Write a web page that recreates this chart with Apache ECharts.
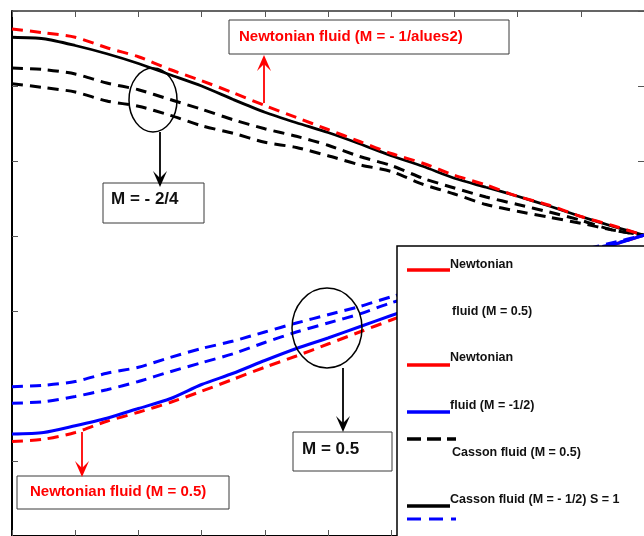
<!DOCTYPE html>
<html><head><meta charset="utf-8">
<script src="https://cdn.jsdelivr.net/npm/echarts@6/dist/echarts.min.js"></script>
<style>html,body{margin:0;padding:0;background:#fff}#c{width:644px;height:536px}</style>
</head><body><div id="c"></div>
<script>
// ---- data ----
const xValues = [0,0.5,1,1.5,2,2.5,3,3.5,4,4.5,5,5.5,6,6.5,7,7.5,8,8.5,9,9.5,10];
const newtonianNegHalf = [6.76,6.71,6.65,6.51,6.39,6.22,6.07,5.91,5.74,5.58,5.42,5.26,5.10,4.97,4.81,4.68,4.53,4.41,4.26,4.14,4.01];
const cassonNegHalf = [6.65,6.63,6.54,6.43,6.30,6.15,6.00,5.82,5.65,5.51,5.38,5.23,5.07,4.93,4.77,4.65,4.53,4.40,4.26,4.13,4.01];
const cassonNegA = [6.24,6.22,6.16,6.04,5.95,5.82,5.69,5.55,5.43,5.33,5.21,5.06,4.94,4.77,4.64,4.52,4.42,4.32,4.21,4.08,4.01];
const cassonNegB = [6.03,5.98,5.92,5.80,5.73,5.61,5.47,5.37,5.25,5.18,5.07,4.95,4.86,4.69,4.56,4.42,4.33,4.25,4.17,4.08,4.01];
const cassonPosA = [1.99,2.01,2.06,2.17,2.25,2.38,2.50,2.60,2.72,2.84,2.95,3.06,3.19,3.31,3.41,3.52,3.63,3.72,3.81,3.91,4.01];
const cassonPosB = [1.77,1.79,1.86,1.95,2.06,2.19,2.31,2.43,2.58,2.72,2.84,2.96,3.11,3.23,3.35,3.47,3.59,3.69,3.80,3.89,4.01];
const cassonPosHalf = [1.36,1.38,1.47,1.57,1.70,1.83,2.02,2.17,2.34,2.50,2.64,2.79,2.94,3.08,3.23,3.36,3.49,3.63,3.75,3.88,4.01];
const newtonianPosHalf = [1.26,1.29,1.38,1.53,1.65,1.78,1.93,2.09,2.25,2.40,2.56,2.72,2.88,3.04,3.19,3.33,3.48,3.61,3.75,3.88,4.01];

const xMin = 0, xMax = 10, xStep = 1;
const yMin = 0, yMax = 7, yStep = 1;

const legendItems = [
  {text: 'Newtonian', color: '#ff0000', dash: null},
  {text: 'fluid (M = 0.5)', color: null, dash: null},
  {text: 'Newtonian', color: '#ff0000', dash: null},
  {text: 'fluid (M = -1/2)', color: '#0000ff', dash: null},
  {text: 'Casson fluid (M = 0.5)', color: '#000000', dash: [14, 6]},
  {text: 'Casson fluid (M = - 1/2) S = 1', color: '#000000', dash: null}
];

const pairs = ys => ys.map((y, i) => [xValues[i], y]);

const chart = echarts.init(document.getElementById('c'), null, {renderer: 'canvas'});

function lineSeries(name, ys, color, dashed, width) {
  return {
    name, type: 'line', data: pairs(ys), showSymbol: false, symbol: 'none', smooth: 0.25,
    lineStyle: {color, width: width || 3, type: dashed ? [11, 7] : 'solid'},
    emphasis: {disabled: true}, silent: true, clip: false
  };
}

const axisCommon = (pos, lineW, lineC, showLine) => ({
  type: 'value', position: pos,
  axisLine: {show: showLine, onZero: false, lineStyle: {color: lineC, width: lineW}},
  axisTick: {show: true, inside: true, length: 6, lineStyle: {color: '#555', width: 1}},
  axisLabel: {show: false}, splitLine: {show: false}
});

const FONT = '"Liberation Sans", Arial, sans-serif';
const G = [];
function box(x, y, w, h) {
  G.push({type: 'rect', z: 50, shape: {x, y, width: w, height: h}, style: {fill: '#fff', stroke: '#3a3a3a', lineWidth: 1}});
}
function txt(x, y, s, color, size) {
  G.push({type: 'text', z: 60, x, y, style: {text: s, fill: color, font: 'bold ' + size + 'px ' + FONT, verticalAlign: 'middle', align: 'left'}});
}
function arrow(x, y1, y2, color) {
  const dir = y2 > y1 ? 1 : -1;
  G.push({type: 'line', z: 55, shape: {x1: x, y1, x2: x, y2: y2 - dir * 6}, style: {stroke: color, lineWidth: 1.8}});
  G.push({type: 'polygon', z: 55, shape: {points: [[x, y2], [x - 7, y2 - dir * 16], [x, y2 - dir * 9], [x + 7, y2 - dir * 16]]}, style: {fill: color}});
}

box(229, 20, 280, 34);
txt(239, 37, 'Newtonian fluid (M = - 1/alues2)', '#ff0000', 15);
arrow(264, 103, 55, '#ff0000');
G.push({type: 'ellipse', z: 55, shape: {cx: 153, cy: 100, rx: 24, ry: 32}, style: {fill: 'none', stroke: '#000', lineWidth: 1.5}});
arrow(160, 132, 187, '#000');
box(103, 183, 101, 40);
txt(111, 199, 'M = - 2/4', '#111', 17);
G.push({type: 'ellipse', z: 55, shape: {cx: 327, cy: 328, rx: 35, ry: 40}, style: {fill: 'none', stroke: '#000', lineWidth: 1.5}});
arrow(343, 368, 432, '#000');
box(293, 432, 99, 39);
txt(302, 449, 'M = 0.5', '#111', 17);
arrow(82, 432, 477, '#ff0000');
box(17, 476, 212, 33);
txt(30, 492, 'Newtonian fluid (M = 0.5)', '#ff0000', 15);

G.push({type: 'rect', z: 80, shape: {x: 397, y: 246, width: 260, height: 300}, style: {fill: '#fff', stroke: '#000', lineWidth: 1.5}});
const legendRows = [
  {ly: 270, ty: 265, tx: 450},
  {ly: null, ty: 312, tx: 452},
  {ly: 365, ty: 358, tx: 450},
  {ly: 412, ty: 406, tx: 450},
  {ly: 439, ty: 453, tx: 452},
  {ly: 506, ty: 500, tx: 450}
];
legendItems.forEach((it, i) => {
  const r = legendRows[i];
  if (it.color && r.ly !== null) {
    G.push({type: 'line', z: 85, shape: {x1: 407, y1: r.ly, x2: it.dash ? 456 : 450, y2: r.ly},
      style: {stroke: it.color, lineWidth: 3.5, lineDash: it.dash || null}});
  }
  G.push({type: 'text', z: 86, x: r.tx, y: r.ty, style: {text: it.text, fill: '#111', font: 'bold 12.5px ' + FONT, verticalAlign: 'middle', align: 'left'}});
});
G.push({type: 'line', z: 85, shape: {x1: 407, y1: 519, x2: 456, y2: 519}, style: {stroke: '#0000ff', lineWidth: 3, lineDash: [14, 8]}});

chart.setOption({
  animation: false,
  backgroundColor: '#fff',
  grid: {left: 12, top: 11, right: -5, bottom: -2, containLabel: false},
  xAxis: [
    Object.assign(axisCommon('bottom', 2, '#000', true), {min: xMin, max: xMax, interval: xStep}),
    Object.assign(axisCommon('top', 1.5, '#333', true), {min: xMin, max: xMax, interval: xStep})
  ],
  yAxis: [
    Object.assign(axisCommon('left', 2, '#000', true), {min: yMin, max: yMax, interval: yStep}),
    Object.assign(axisCommon('right', 2, '#000', false), {min: yMin, max: yMax, interval: yStep})
  ],
  series: [
    lineSeries('Casson fluid (M = - 2/4) a', cassonNegA, '#000', true, 3),
    lineSeries('Casson fluid (M = - 2/4) b', cassonNegB, '#000', true, 3),
    lineSeries('Casson fluid (M = - 1/2)', cassonNegHalf, '#000', false, 2.8),
    lineSeries('Newtonian fluid (M = - 1/2)', newtonianNegHalf, '#ff0000', true, 3),
    lineSeries('Newtonian fluid (M = 0.5)', newtonianPosHalf, '#ff0000', true, 3),
    lineSeries('Casson fluid (M = 0.5)', cassonPosHalf, '#0000ff', false, 3),
    lineSeries('Casson fluid (M = 0.5) a', cassonPosA, '#0000ff', true, 3),
    lineSeries('Casson fluid (M = 0.5) b', cassonPosB, '#0000ff', true, 3)
  ],
  graphic: G
});
</script>
</body></html>
